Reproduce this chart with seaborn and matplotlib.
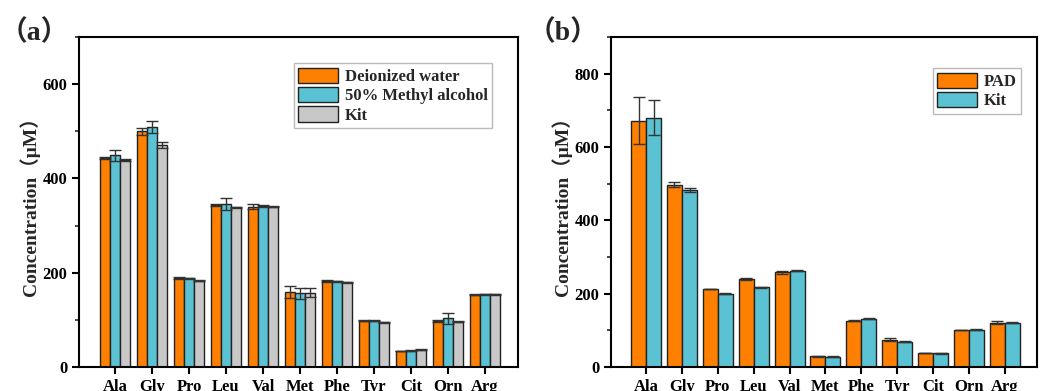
import numpy as np
import pandas as pd
import matplotlib
matplotlib.use('Agg')
import matplotlib.pyplot as plt
import seaborn as sns
from matplotlib.ticker import MultipleLocator

amino = ['Ala', 'Gly', 'Pro', 'Leu', 'Val', 'Met', 'Phe', 'Tyr', 'Cit', 'Orn', 'Arg']

# panel (a): solvent comparison
water = [444, 500, 188, 344, 340, 159, 182, 98, 34, 98, 153]
water_err = [2, 8, 2, 2, 5, 13, 2, 1, 1, 2, 1]
methanol = [449, 509, 188, 346, 342, 156, 182, 98, 35, 103, 154]
methanol_err = [12, 12, 1, 13, 2, 12, 1, 1, 1, 12, 1]
kit_a = [439, 471, 183, 339, 340, 158, 180, 95, 37, 96, 154]
kit_a_err = [2, 6, 1, 1, 1, 10, 1, 1, 1, 1, 1]

# panel (b): PAD vs kit
pad = [672, 497, 213, 241, 258, 29, 126, 75, 38, 101, 121]
pad_err = [64, 7, 1, 3, 4, 1, 1, 3, 1, 1, 4]
kit_b = [680, 483, 200, 217, 263, 28, 132, 69, 37, 102, 121]
kit_b_err = [47, 6, 1, 1, 1, 1, 1, 1, 1, 1, 1]

orange = '#FF8000'
cyan = '#5BC2D3'
gray = '#C8C8C8'

sns.set_theme(style='ticks')
plt.rcParams['font.family'] = ['Liberation Serif', 'Noto Sans CJK SC']
plt.rcParams['font.weight'] = 'bold'
plt.rcParams['axes.labelweight'] = 'bold'

fig = plt.figure(figsize=(10.44, 3.91), dpi=100)
ax1 = fig.add_axes([79 / 1044, 1 - 367 / 391, 439 / 1044, 330 / 391])
ax2 = fig.add_axes([611 / 1044, 1 - 367 / 391, 426 / 1044, 330 / 391])


def draw(ax, groups, errs, colors, width, ylim, major, legend_kw):
    rows = []
    for name, vals in groups.items():
        for a, v in zip(amino, vals):
            rows.append({'amino': a, 'group': name, 'value': v})
    df = pd.DataFrame(rows)
    sns.barplot(data=df, x='amino', y='value', hue='group', palette=colors,
                order=amino, hue_order=list(groups.keys()), width=width,
                edgecolor='#222222', linewidth=1.0, errorbar=None, ax=ax,
                saturation=1)
    bar_conts = list(ax.containers)
    for cont, err in zip(bar_conts, errs):
        xs = [p.get_x() + p.get_width() / 2 for p in cont]
        ys = [p.get_height() for p in cont]
        ax.errorbar(xs, ys, yerr=err, fmt='none', ecolor='#333333',
                    elinewidth=1.0, capsize=4, capthick=1.0, zorder=5)
    ax.set_xlim(-0.98, 10.9)
    ax.set_ylim(*ylim)
    ax.yaxis.set_major_locator(MultipleLocator(major))
    ax.yaxis.set_minor_locator(MultipleLocator(major / 2))
    ax.set_xlabel('')
    ax.set_ylabel('Concentration（μM）', fontsize=14, fontweight='bold', labelpad=2)
    for s in ax.spines.values():
        s.set_visible(True)
        s.set_linewidth(1.5)
        s.set_color('black')
    ax.tick_params(axis='both', which='major', direction='out', length=5,
                   width=1.5, labelsize=12, colors='black')
    ax.tick_params(axis='y', which='minor', direction='out', length=3, width=1.2)
    for lab in ax.get_xticklabels() + ax.get_yticklabels():
        lab.set_fontweight('bold')
    handles = [c.patches[0] for c in bar_conts]
    leg = ax.legend(handles, list(groups.keys()), prop={'size': 12, 'weight': 'bold'},
                    frameon=True, fancybox=False, framealpha=1, edgecolor='#BBBBBB',
                    handlelength=2.4, handleheight=1.05, handletextpad=0.4,
                    labelspacing=0.12, borderpad=0.25, borderaxespad=0, **legend_kw)
    leg.get_frame().set_linewidth(1.0)


draw(ax1, {'Deionized water': water, '50% Methyl alcohol': methanol, 'Kit': kit_a},
     [water_err, methanol_err, kit_a_err], [orange, cyan, gray], 0.82, (0, 700), 200,
     dict(loc='upper left', bbox_to_anchor=(0.49, 0.92)))
draw(ax2, {'PAD': pad, 'Kit': kit_b},
     [pad_err, kit_b_err], [orange, cyan], 0.84, (0, 900), 200,
     dict(loc='upper left', bbox_to_anchor=(0.756, 0.905)))

fig.text(0, 1 - 40 / 391, '（a）', fontsize=20, fontweight='bold', va='baseline')
fig.text(528 / 1044, 1 - 40 / 391, '（b）', fontsize=20, fontweight='bold', va='baseline')

fig.savefig('out.png', dpi=100)
